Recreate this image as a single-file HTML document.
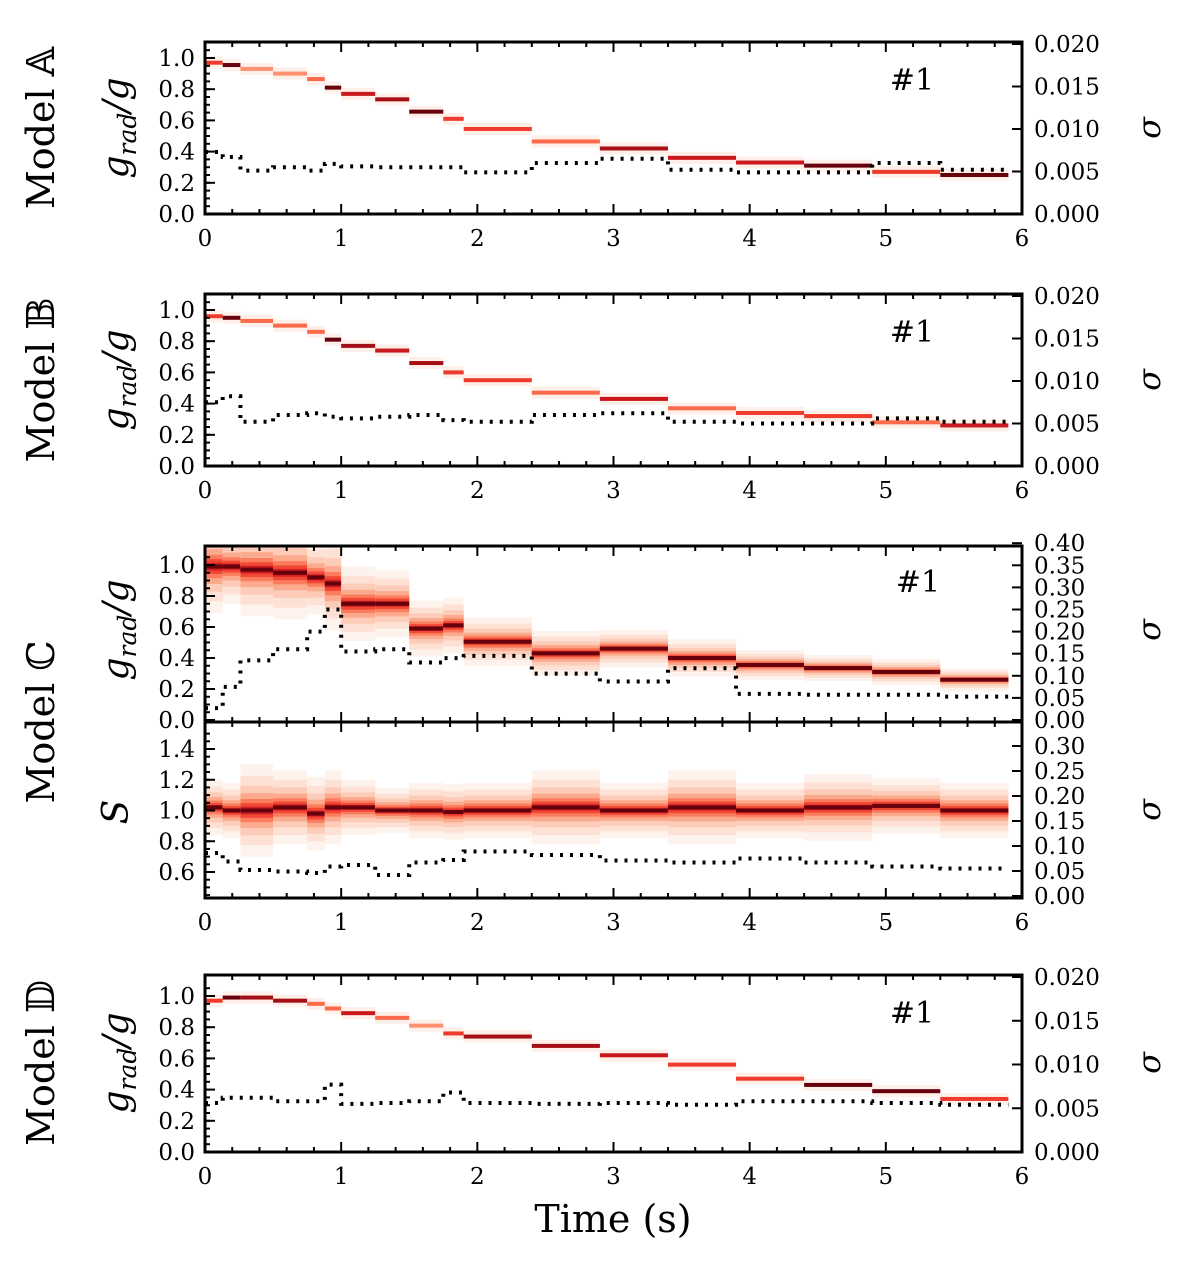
<!DOCTYPE html>
<html><head><meta charset="utf-8"><style>
body{margin:0;background:#fff}
svg text{font-family:"DejaVu Serif","Liberation Serif",serif;fill:#000}
</style></head><body>
<svg id="fig" width="1200" height="1267" xmlns="http://www.w3.org/2000/svg"></svg>
<script>
const binEdges=[0,0.13,0.26,0.5,0.75,0.88,1.0,1.25,1.5,1.75,1.9,2.4,2.9,3.4,3.9,4.4,4.9,5.4,5.9];
const xTicks=[0,1,2,3,4,5,6];
const meanA=[0.97,0.955,0.93,0.9,0.865,0.81,0.77,0.735,0.656,0.61,0.545,0.465,0.42,0.36,0.33,0.31,0.27,0.25];
const sigA=[0.0073,0.0067,0.0051,0.0055,0.0051,0.0059,0.0056,0.0055,0.0055,0.0055,0.0049,0.006,0.0065,0.0052,0.0049,0.0049,0.006,0.0052];
const colA=[3,0,5,5,4,0,2,1,0,3,3,4,1,2,2,0,3,0];
const meanB=[0.96,0.95,0.93,0.9,0.86,0.81,0.77,0.74,0.66,0.6,0.55,0.47,0.43,0.37,0.34,0.32,0.28,0.26];
const sigB=[0.0075,0.0082,0.0052,0.006,0.0062,0.0058,0.0056,0.0058,0.006,0.0054,0.0052,0.006,0.0062,0.0052,0.005,0.005,0.0056,0.0052];
const colB=[3,0,4,4,4,0,1,2,1,3,3,4,2,4,3,3,4,2];
const meanC=[0.99,0.99,0.97,0.95,0.92,0.88,0.75,0.75,0.59,0.61,0.505,0.43,0.46,0.40,0.355,0.335,0.31,0.26];
const spreadC=[0.25,0.2,0.25,0.25,0.2,0.25,0.2,0.18,0.15,0.15,0.13,0.12,0.1,0.1,0.08,0.07,0.07,0.06];
const sigC=[0.027,0.075,0.135,0.16,0.2,0.25,0.155,0.16,0.13,0.14,0.145,0.105,0.087,0.117,0.059,0.057,0.057,0.053];
const meanS=[1.02,1.0,1.0,1.02,0.98,1.02,1.02,1.0,1.0,0.99,1.0,1.02,1.0,1.02,1.0,1.02,1.03,1.0];
const spreadS=[0.15,0.15,0.25,0.2,0.2,0.2,0.15,0.12,0.15,0.15,0.15,0.2,0.15,0.2,0.15,0.18,0.15,0.15];
const sigS=[0.086,0.069,0.052,0.049,0.046,0.059,0.062,0.042,0.067,0.072,0.089,0.082,0.071,0.067,0.075,0.067,0.059,0.055];
const meanD=[0.97,0.99,0.99,0.97,0.95,0.92,0.89,0.86,0.81,0.76,0.74,0.68,0.62,0.56,0.47,0.43,0.39,0.34];
const sigD=[0.0056,0.0062,0.0062,0.0058,0.0058,0.0077,0.0055,0.0056,0.0058,0.0068,0.0056,0.0055,0.0056,0.0054,0.0058,0.0058,0.0056,0.0054];
const colD=[3,0,1,1,4,4,2,4,5,3,1,1,2,3,3,0,0,3];
const reds=['#67000d','#a50f15','#cb181d','#ef3b2c','#fb6a4a','#fc9272'];

const svg=document.getElementById('fig');
const NS='http://www.w3.org/2000/svg';
function el(tag,attrs,parent){const e=document.createElementNS(NS,tag);for(const k in attrs)e.setAttribute(k,attrs[k]);(parent||svg).appendChild(e);return e;}
const X0=205,X1=1022;
const sx=t=>X0+(t-0)/6*(X1-X0);

function panel(name){
  const g=el('g',{});
  
  
  return g;
}
function axesFrame(g,top,bot,yf,sf,leftTicks,leftFmt,leftMinor,rightTicks,rightFmt,showX,topTicks){
  for(let t=0;t<=6.0001;t+=0.2){const x=sx(t);const major=Math.abs(t-Math.round(t))<1e-6;const L=major?10:5;
    el('line',{x1:x,y1:bot,x2:x,y2:bot-L,stroke:'#000','stroke-width':2},g);
    if(topTicks)el('line',{x1:x,y1:top,x2:x,y2:top+L,stroke:'#000','stroke-width':2},g);}
  leftMinor.forEach(v=>{const y=yf(v);if(y>=top-0.5&&y<=bot+0.5)el('line',{x1:X0,y1:y,x2:X0+5,y2:y,stroke:'#000','stroke-width':2},g);});
  leftTicks.forEach(v=>{const y=yf(v);el('line',{x1:X0,y1:y,x2:X0+10,y2:y,stroke:'#000','stroke-width':2},g);
    const tx=el('text',{x:X0-10,y:y+8,'text-anchor':'end','font-size':23},g);tx.textContent=v.toFixed(leftFmt);
    });
  rightTicks.forEach(v=>{const y=sf(v);el('line',{x1:X1,y1:y,x2:X1-10,y2:y,stroke:'#000','stroke-width':2},g);
    const tx=el('text',{x:X1+12,y:y+8,'font-size':23},g);tx.textContent=v.toFixed(rightFmt);
    });
  if(showX)xTicks.forEach(t=>{const tx=el('text',{x:sx(t),y:bot+32,'text-anchor':'middle','font-size':23},g);tx.textContent=t;
    });
}
function border(g,top,bot){const r=el('rect',{x:X0,y:top,width:X1-X0,height:bot-top,fill:'none',stroke:'#000','stroke-width':3},g);
  }
function clip(id,top,bot){const c=el('clipPath',{id:id});el('rect',{x:X0,y:top,width:X1-X0,height:bot-top},c);}
function steps(g,means,cols,yf,clipId){
  const gg=el('g',{'clip-path':'url(#'+clipId+')'},g);
  means.forEach((m,i)=>{const x=sx(binEdges[i]),w=sx(binEdges[i+1])-x,y=yf(m);
    el('rect',{x:x,y:y-6,width:w,height:12,fill:'#fee0d2',opacity:0.5},gg);
    const r=el('rect',{x:x,y:y-2,width:w,height:4,fill:reds[cols[i]]},gg);
    });
}
function heat(g,means,spreads,yf,clipId){
  const gg=el('g',{'clip-path':'url(#'+clipId+')'},g);
  const lv=[[2.4,'#fee5d9',0.5],[1.8,'#fdd0bd',0.5],[1.3,'#fcbba1',0.55],[0.9,'#fc9272',0.6],[0.6,'#fb6a4a',0.7],[0.38,'#ef3b2c',0.8],[0.2,'#cb181d',0.85],[0.1,'#a50f15',1]];
  means.forEach((m,i)=>{const x=sx(binEdges[i]),w=sx(binEdges[i+1])-x;
    lv.forEach(([k,c,o])=>{const y1=yf(m+spreads[i]*k*0.5),y2=yf(m-spreads[i]*k*0.5);
      const r=el('rect',{x:x,y:Math.min(y1,y2),width:w,height:Math.abs(y2-y1),fill:c,opacity:o},gg);
      });
    el('rect',{x:x,y:yf(m)-2,width:w,height:4,fill:'#67000d'},gg);});
}
function sigLine(g,sig,sf){
  let d='';sig.forEach((s,i)=>{const x1=sx(binEdges[i]),x2=sx(binEdges[i+1]),y=sf(s);d+=(i?'L':'M')+x1+' '+y+'L'+x2+' '+y;});
  const p=el('path',{d:d,fill:'none',stroke:'#000','stroke-width':4,'stroke-dasharray':'3,7'},g);
  
}
function text(x,y,s,size,name,rot,style){const t=el('text',{x:x,y:y,'font-size':size,'text-anchor':'middle'});
  if(rot)t.setAttribute('transform','rotate(-90 '+x+' '+y+')');if(style)t.setAttribute('font-style',style);
  t.textContent=s;return t;}
function gradLabel(x,y,name){const t=el('text',{x:x,y:y,'font-size':36,'text-anchor':'middle','font-style':'italic',transform:'rotate(-90 '+x+' '+y+')'});
  t.innerHTML='g<tspan font-size="25" dy="8">rad</tspan><tspan dy="-8">/g</tspan>';
  }

const lt=[0,0.2,0.4,0.6,0.8,1.0];const lm=[];for(let v=0;v<=1.1;v+=0.05)lm.push(+v.toFixed(2));
const rtSmall=[0,0.005,0.01,0.015,0.02];

{const top=42,bot=214,yf=v=>214-v*156,sf=s=>214-s*8500;const g=panel('panel-model-a');
 clip('cA',top,bot);steps(g,meanA,colA,yf,'cA');sigLine(g,sigA,sf);
 axesFrame(g,top,bot,yf,sf,lt,1,lm,rtSmall,3,true,true);border(g,top,bot);
 text(912,90,'#1',30,'run-label');text(54,128,'Model 𝔸',38,'model-a-label',true);gradLabel(128,128,'y-axis-title-a');
 text(1160,128,'σ',32,'sigma-axis-title-a',true,'italic');}
{const top=294,bot=466,yf=v=>466-v*156,sf=s=>466-s*8500;const g=panel('panel-model-b');
 clip('cB',top,bot);steps(g,meanB,colB,yf,'cB');sigLine(g,sigB,sf);
 axesFrame(g,top,bot,yf,sf,lt,1,lm,rtSmall,3,true,true);border(g,top,bot);
 text(912,342,'#1',30,'run-label');text(54,380,'Model 𝔹',38,'model-b-label',true);gradLabel(128,380,'y-axis-title-b');
 text(1160,380,'σ',32,'sigma-axis-title-b',true,'italic');}
{const top=546,bot=722,yf=v=>720-v*155,sf=s=>720-s*442;const g=panel('panel-model-c-grad');
 clip('cC',top,bot);heat(g,meanC,spreadC,yf,'cC');sigLine(g,sigC,sf);
 axesFrame(g,top,bot,yf,sf,lt,1,lm,[0,0.05,0.1,0.15,0.2,0.25,0.3,0.35,0.4],2,false,true);border(g,top,bot);
 text(918,592,'#1',30,'run-label');gradLabel(128,630,'y-axis-title-c');
 text(1160,630,'σ',32,'sigma-axis-title-c',true,'italic');}
{const top=722,bot=898,yf=v=>872-(v-0.6)*153.75,sf=s=>896-s*500;const g=panel('panel-model-c-s');
 const sm=[];for(let v=0.45;v<=1.55;v+=0.05)sm.push(+v.toFixed(2));
 clip('cS',top,bot);heat(g,meanS,spreadS,yf,'cS');sigLine(g,sigS,sf);
 axesFrame(g,top,bot,yf,sf,[0.6,0.8,1.0,1.2,1.4],1,sm,[0,0.05,0.1,0.15,0.2,0.25,0.3],2,true,true);border(g,top,bot);
 text(128,812,'S',36,'y-axis-title-s',true,'italic');
 text(1160,810,'σ',32,'sigma-axis-title-s',true,'italic');text(54,722,'Model ℂ',38,'model-c-label',true);}
{const top=975,bot=1152,yf=v=>1152-v*156,sf=s=>1152-s*8750;const g=panel('panel-model-d');
 clip('cD',top,bot);steps(g,meanD,colD,yf,'cD');sigLine(g,sigD,sf);
 axesFrame(g,top,bot,yf,sf,lt,1,lm,rtSmall,3,true,true);border(g,top,bot);
 text(912,1023,'#1',30,'run-label');text(54,1063,'Model 𝔻',38,'model-d-label',true);gradLabel(128,1063,'y-axis-title-d');
 text(1160,1063,'σ',32,'sigma-axis-title-d',true,'italic');}
text(613,1232,'Time (s)',38,'x-axis-title');
</script>
</body></html>
